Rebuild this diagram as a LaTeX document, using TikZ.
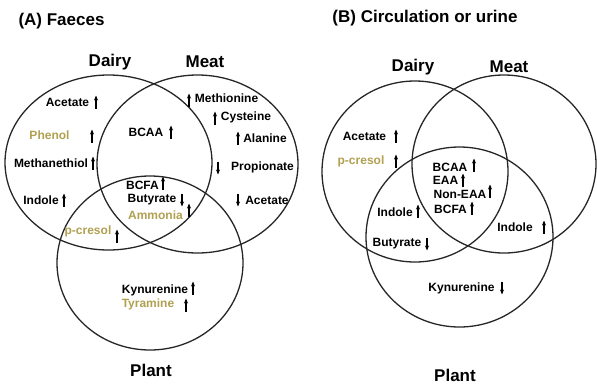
\documentclass[tikz,border=0pt]{standalone}
\usepackage{fontspec}
\setmainfont{Liberation Sans}
\usetikzlibrary{arrows.meta}
\definecolor{olivetext}{RGB}{176, 160, 80}

\tikzset{
  ring/.style={line width=1.3pt, black!85},
  heading/.style={font=\fontsize{17}{20}\selectfont\bfseries},
  setname/.style={font=\fontsize{17}{20}\selectfont\bfseries},
  item/.style={font=\fontsize{12}{13}\selectfont\bfseries, inner sep=0pt},
  olive/.style={item, text=olivetext},
  markarrow/.style={line width=1.1pt, -{Stealth[length=5pt, width=4pt]}},
  upmark/.pic={\draw[markarrow] (0,6.5) -- (0,-6.5);},
  downmark/.pic={\draw[markarrow] (0,-6.5) -- (0,6.5);}
}

\begin{document}
\begin{tikzpicture}[x=1pt, y=-1pt]
    \useasboundingbox (0,0) rectangle (597,386);
    % (A) faeces
    \node[heading] (titleA) at (61.5,21) {(A) Faeces};
    \draw[ring] (108.5,162.5) ellipse [x radius=103.5, y radius=87.5];
    \draw[ring] (197.5,164) ellipse [x radius=100.5, y radius=89];
    \draw[ring] (150,263) ellipse [x radius=93, y radius=87];
    \node[setname] (dairyA) at (110,62) {Dairy};
    \node[setname] (meatA) at (205,62) {Meat};
    \node[setname] (plantA) at (151,370) {Plant};
    % dairy only
    \node[item] (acetateA) at (67.5,102) {Acetate};
    \pic at (96,102) {upmark};
    \node[olive] (phenol) at (49.5,135) {Phenol};
    \pic at (92,136) {upmark};
    \node[item] (methanethiol) at (51,163) {Methanethiol};
    \pic at (93,163) {upmark};
    \node[item] (indoleA) at (41,200) {Indole};
    \pic at (64,200) {upmark};
    % meat only
    \node[item] (methionine) at (226.5,98) {Methionine};
    \pic at (189,100) {upmark};
    \node[item] (cysteine) at (246,117) {Cysteine};
    \pic at (215,118) {upmark};
    \node[item] (alanine) at (265,138) {Alanine};
    \pic at (238,138) {upmark};
    \node[item] (propionate) at (262.5,167) {Propionate};
    \pic at (218,168) {downmark};
    \node[item] (acetateAm) at (267,200) {Acetate};
    \pic at (238,200) {downmark};
    % overlaps
    \node[item] (bcaaA) at (146,132) {BCAA};
    \pic at (171,132) {upmark};
    \node[item] (bcfaA) at (142.5,185) {BCFA};
    \pic at (163,183) {upmark};
    \node[item] (butyrateA) at (152,200) {Butyrate};
    \pic at (182,200) {downmark};
    \node[olive] (ammonia) at (155.5,215) {Ammonia};
    \pic at (189,210) {upmark};
    \node[olive] (pcresolA) at (88,231) {p-cresol};
    \pic at (117,236) {upmark};
    % plant only
    \node[item] (kynurenineA) at (155,290) {Kynurenine};
    \pic at (193,288) {upmark};
    \node[olive] (tyramine) at (148,304) {Tyramine};
    \pic at (186,305) {upmark};

    % (B) circulation or urine
    \node[heading] (titleB) at (425,18) {(B) Circulation or urine};
    \draw[ring] (415,171.5) ellipse [x radius=93, y radius=90.5];
    \draw[ring] (504,164) ellipse [x radius=92, y radius=89];
    \draw[ring] (459.5,237) ellipse [x radius=93.5, y radius=90];
    \node[setname] (dairyB) at (413,67) {Dairy};
    \node[setname] (meatB) at (509,67) {Meat};
    \node[setname] (plantB) at (455,375) {Plant};
    \node[item] (acetateB) at (364.5,136) {Acetate};
    \pic at (396,136) {upmark};
    \node[olive] (pcresolB) at (361,161) {p-cresol};
    \pic at (396,161) {upmark};
    \node[item] (bcaaB) at (450,167) {BCAA};
    \pic at (474,165) {upmark};
    \node[item] (eaa) at (445.5,180) {EAA};
    \pic at (463,180) {upmark};
    \node[item] (noneaa) at (460,194) {Non-EAA};
    \pic at (490,191) {upmark};
    \node[item] (bcfaB) at (450.5,209) {BCFA};
    \pic at (472,208) {upmark};
    \node[item] (indoleB) at (395,212) {Indole};
    \pic at (418,211) {upmark};
    \node[item] (butyrateB) at (397,244) {Butyrate};
    \pic at (427,244) {downmark};
    \node[item] (indoleBm) at (515,227) {Indole};
    \pic at (544,227) {upmark};
    \node[item] (kynurenineB) at (461.5,288) {Kynurenine};
    \pic at (502,288) {downmark};
\end{tikzpicture}
\end{document}
